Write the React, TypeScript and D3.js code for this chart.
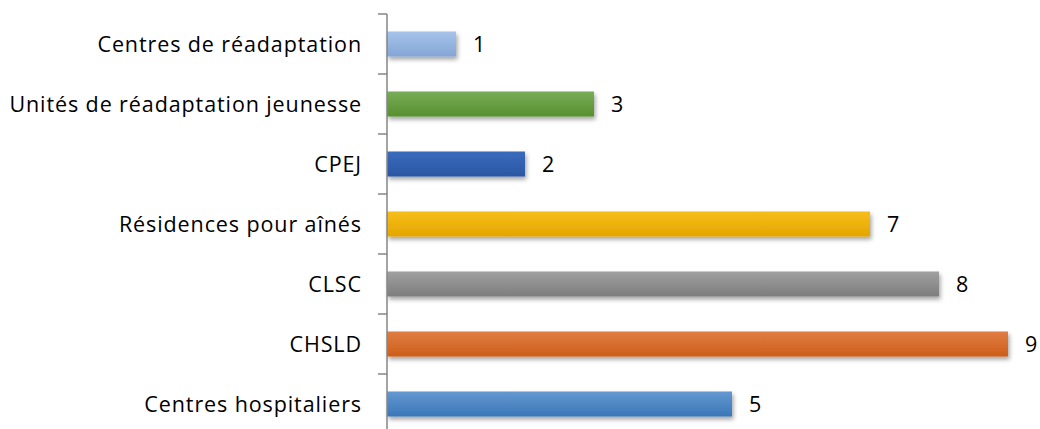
import React from "react";
import * as d3 from "d3";

const categories = [
  "Centres de réadaptation",
  "Unités de réadaptation jeunesse",
  "CPEJ",
  "Résidences pour aînés",
  "CLSC",
  "CHSLD",
  "Centres hospitaliers",
];
const values = [1, 3, 2, 7, 8, 9, 5];
const topColors = ["#a6c3ea", "#78ad58", "#3a6cbc", "#f7be1a", "#a0a0a0", "#e07d42", "#6498d0"];
const bottomColors = ["#84a6d6", "#57902f", "#2a56a3", "#e3a600", "#7d7d7d", "#cd5e1b", "#3a77b7"];

export default function App() {
  const W = 1040;
  const H = 429;
  const x0 = 387;
  const x = d3.scaleLinear().domain([0, 1]).range([x0, x0 + 69]);
  const y = d3
    .scaleBand<string>()
    .domain(categories)
    .range([14, 434])
    .paddingInner(0.583)
    .paddingOuter(0.2915);
  const step = y.step();
  const font = "'Open Sans', sans-serif";
  return (
    <svg
      width={W}
      height={H}
      style={{ position: "absolute", left: 0, top: 0, background: "#fff" }}
    >
      <defs>
        <filter id="sh" x="-5%" y="-30%" width="115%" height="190%">
          <feDropShadow dx="1.5" dy="3" stdDeviation="2" floodColor="#000" floodOpacity="0.35" />
        </filter>
        {categories.map((c, i) => (
          <linearGradient key={c} id={`g${i}`} x1="0" y1="0" x2="0" y2="1">
            <stop offset="0" stopColor={topColors[i]} />
            <stop offset="1" stopColor={bottomColors[i]} />
          </linearGradient>
        ))}
      </defs>
      {categories.map((c, i) => {
        const by = y(c)!;
        const bh = y.bandwidth();
        const cy = by + bh / 2;
        return (
          <g key={c}>
            <rect
              x={x(0)}
              y={by}
              width={x(values[i]) - x(0)}
              height={bh}
              fill={`url(#g${i})`}
              filter="url(#sh)"
            />
            <text
              x={x(values[i]) + 17}
              y={cy}
              dy="0.36em"
              fontFamily={font}
              fontSize={21.5}
              fill="#000"
            >
              {values[i]}
            </text>
            <text
              x={362}
              y={cy}
              dy="0.36em"
              textAnchor="end"
              fontFamily={font}
              fontSize={21.5}
              letterSpacing={0.9}
              fill="#000"
            >
              {c}
            </text>
          </g>
        );
      })}
      {d3.range(categories.length + 1).map((k) => (
        <line
          key={k}
          x1={378}
          x2={x0}
          y1={14 + k * step}
          y2={14 + k * step}
          stroke="#868686"
          strokeWidth={1.5}
        />
      ))}
      <line x1={x0} x2={x0} y1={14} y2={434} stroke="#868686" strokeWidth={1.5} />
    </svg>
  );
}
